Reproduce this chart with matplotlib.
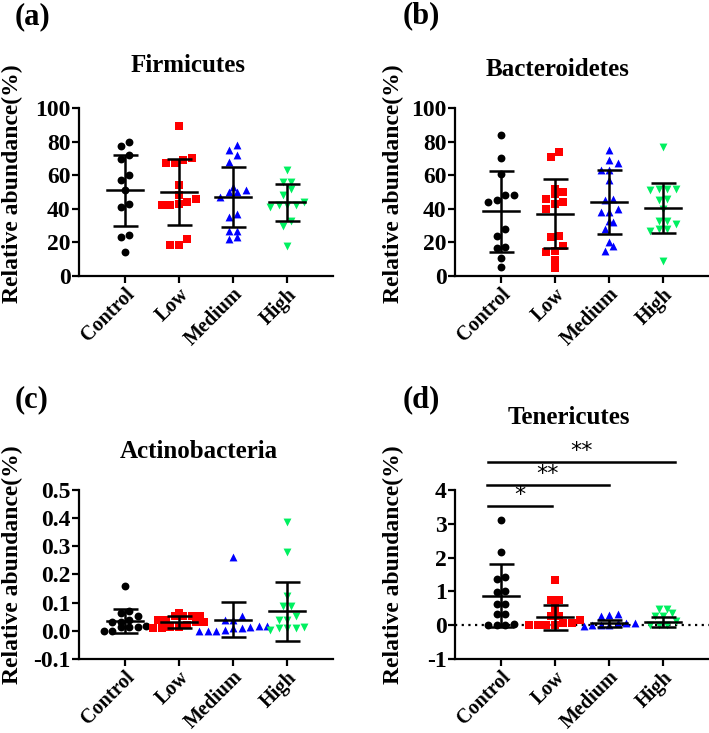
import numpy as np
import matplotlib.pyplot as plt

plt.rcParams['font.family'] = ['Liberation Serif', 'DejaVu Serif']
plt.rcParams['font.weight'] = 'bold'
plt.rcParams['axes.unicode_minus'] = False

groups = ['Control', 'Low', 'Medium', 'High']
colors = ['black', '#ff0000', '#0000ff', '#00f060']
markers = ['o', 's', '^', 'v']

# Firmicutes
firm = [
    [77.5, 80, 69.6, 72, 60, 57, 43, 51, 41, 24.5, 23, 14.5],
    [89, 70, 69, 67, 67, 54, 48, 46, 44, 43, 42, 42, 22, 18.5, 18.5],
    [78, 75, 72, 68, 51, 50, 53, 50, 47, 35, 37, 27, 27, 23, 22],
    [63, 56, 56, 52, 48, 42, 41, 44, 42, 42, 33, 30, 18],
]
firm_mean = [51, 50, 47, 44]
firm_sd = [21, 19.5, 18, 11]

# Bacteroidetes
bact = [
    [84, 70, 61, 48, 48, 45, 44, 28, 24, 17.5, 16.5, 10.5, 5.5],
    [74, 71, 52, 50, 49, 44, 43, 46, 40, 23.5, 24, 18, 15, 14.5, 9.5, 5],
    [75, 69, 67, 63, 63, 57, 45, 46, 40, 38, 38, 32, 33, 28, 20, 18, 15],
    [77, 52, 52, 52, 51, 45, 46, 40, 31, 33, 33, 28, 28, 27, 9],
]
bact_mean = [38.5, 37, 44, 40.5]
bact_sd = [24, 20.5, 19, 15]

# Actinobacteria
acti = [
    [0.158, 0.065, 0.069, 0.054, 0.039, 0.033, 0.033, 0.018, 0.015, 0.015, 0.015, -0.002, 0.0],
    [0.065, 0.051, 0.051, 0.054, 0.051, 0.039, 0.033, 0.037, 0.033, 0.015, 0.015, 0.01, 0.01, 0.021],
    [0.263, 0.054, 0.039, 0.039, 0.015, 0.018, 0.018, 0.004, 0.0, 0.0, 0.0, 0.01, 0.01],
    [0.387, 0.28, 0.125, 0.087, 0.087, 0.051, 0.039, 0.039, 0.015, 0.01, 0.01, 0.01, 0.004],
]
acti_mean = [0.035, 0.032, 0.04, 0.07]
acti_sd = [0.042, 0.022, 0.062, 0.105]

# Tenericutes
tene = [
    [3.1, 2.16, 1.37, 1.42, 1.0, 0.97, 0.64, 0.64, 0.34, 0.34, 0.04, 0.01, 0.01, 0.01],
    [1.33, 0.75, 0.75, 0.5, 0.26, 0.26, 0.16, 0.06, 0.06, 0.01, 0.01, 0.01, 0.01],
    [0.3, 0.33, 0.26, 0.06, 0.06, 0.06, 0.01, -0.02, 0.0, 0.0],
    [0.47, 0.47, 0.35, 0.26, 0.26, 0.11, 0.01, 0.01, 0.01],
]
tene_mean = [0.87, 0.23, 0.06, 0.1]
tene_sd = [0.93, 0.38, 0.1, 0.14]

# significance brackets in (d): start, end, height, label
sig_x0 = [-0.24, -0.26, -0.24]
sig_x1 = [0.945, 2.0, 3.22]
sig_y = [3.52, 4.14, 4.82]
sig_txt = ['*', '**', '**']


def swarm(vals, px_per_unit, dy=7.0, dx=8.5, px_per_cat=54.0):
    vals = np.asarray(vals, float)
    order = np.argsort(vals)
    xs = np.zeros(len(vals))
    rows = []
    cur = [order[0]]
    for i in order[1:]:
        if (vals[i] - vals[cur[0]]) * px_per_unit < dy:
            cur.append(i)
        else:
            rows.append(cur)
            cur = [i]
    rows.append(cur)
    for row in rows:
        n = len(row)
        for j, i in enumerate(row):
            xs[i] = (j - (n - 1) / 2) * dx / px_per_cat
    return xs


def panel(ax, data, mean, sd, ylim, yticks, px_per_unit, fmt=None):
    for k in range(4):
        xs = k + swarm(data[k], px_per_unit)
        ax.scatter(xs, data[k], s=32, marker=markers[k], color=colors[k],
                   linewidths=0, zorder=2, clip_on=False)
        ax.plot([k - 0.34, k + 0.34], [mean[k], mean[k]], color='black', lw=1.8, zorder=3)
        ax.errorbar(k, mean[k], yerr=sd[k], fmt='none', ecolor='black',
                    elinewidth=1.8, capsize=9, capthick=1.8, zorder=3)
    ax.set_xlim(-0.85, 3.85)
    ax.set_ylim(*ylim)
    ax.set_yticks(yticks)
    if fmt:
        ax.set_yticklabels([fmt % v for v in yticks])
    ax.set_xticks(range(4))
    ax.set_xticklabels(groups, rotation=45, ha='right', rotation_mode='anchor')
    for s in ['top', 'right']:
        ax.spines[s].set_visible(False)
    for s in ['left', 'bottom']:
        ax.spines[s].set_linewidth(1.6)
    ax.tick_params(width=1.6, length=5, pad=1)
    ax.tick_params(axis='y', labelsize=17)
    ax.tick_params(axis='x', labelsize=14.5)
    ax.set_ylabel('Relative abundance(%)', fontsize=17, fontweight='bold')


fig = plt.figure(figsize=(7.09, 7.33), dpi=100)
W, H = 709.0, 733.0
ax_a = fig.add_axes([79 / W, 1 - 276 / H, 254 / W, 168 / H])
ax_b = fig.add_axes([455 / W, 1 - 276 / H, 254 / W, 168 / H])
ax_c = fig.add_axes([79 / W, 1 - 659 / H, 254 / W, 169 / H])
ax_d = fig.add_axes([455 / W, 1 - 659 / H, 254 / W, 169 / H])

panel(ax_a, firm, firm_mean, firm_sd, (0, 100), [0, 20, 40, 60, 80, 100], 1.68)
panel(ax_b, bact, bact_mean, bact_sd, (0, 100), [0, 20, 40, 60, 80, 100], 1.68)
panel(ax_c, acti, acti_mean, acti_sd, (-0.1, 0.5), np.arange(-0.1, 0.51, 0.1), 281.7, '%.1f')
panel(ax_d, tene, tene_mean, tene_sd, (-1, 4), [-1, 0, 1, 2, 3, 4], 33.8)

ax_a.yaxis.set_label_coords(-0.222, 0.548)
ax_b.yaxis.set_label_coords(-0.2, 0.548)
ax_c.yaxis.set_label_coords(-0.222, 0.556)
ax_d.yaxis.set_label_coords(-0.2, 0.556)

ax_d.axhline(0, color='black', lw=1.6, ls=(0, (1, 2)), zorder=1)
for x0, x1, y, t in zip(sig_x0, sig_x1, sig_y, sig_txt):
    ax_d.plot([x0, x1], [y, y], color='black', lw=1.8, clip_on=False)
    ax_d.text((x0 + x1) / 2, y + 0.04, t, ha='center', va='bottom', fontsize=16,
              fontweight='normal', family=['DejaVu Sans'], clip_on=False)

titles = ['Firmicutes', 'Bacteroidetes', 'Actinobacteria', 'Tenericutes']
tpos = [(188, 65), (558, 70), (199, 451), (569, 418)]
for t, (x, y) in zip(titles, tpos):
    fig.text(x / W, 1 - y / H, t, ha='center', va='center', fontsize=18, fontweight='bold')

letters = ['(a)', '(b)', '(c)', '(d)']
lpos = [(32, 17), (421, 16), (32, 400), (421, 400)]
for t, (x, y) in zip(letters, lpos):
    fig.text(x / W, 1 - y / H, t, ha='center', va='center', fontsize=22, fontweight='bold')

fig.savefig('out.png', dpi=100)
